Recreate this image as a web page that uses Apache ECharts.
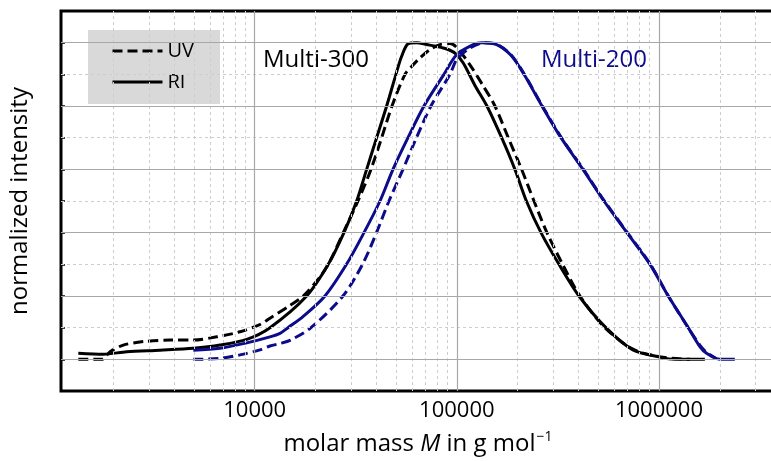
<!DOCTYPE html>
<html><head><meta charset="utf-8">
<script src="https://cdn.jsdelivr.net/npm/echarts@6/dist/echarts.min.js"></script>
<style>html,body{margin:0;padding:0;background:#fff}#c{width:771px;height:461px}</style>
</head><body><div id="c"></div>
<script>
// ---- data: [molar mass M (g/mol), normalized intensity] ----
const uv300 = [[1341,0],[1751,0],[1925,0.024],[2239,0.045],[2813,0.056],[3812,0.061],[4970,0.061],[6488,0.071],[8458,0.087],[10622,0.11],[11905,0.13],[14950,0.17],[17395,0.2],[21040,0.26],[23570,0.31],[27432,0.4],[32430,0.5],[37610,0.6],[42480,0.7],[47780,0.8],[55400,0.9],[59770,0.925],[65680,0.952],[73620,0.978],[82490,0.994],[92450,0.997],[99770,0.985],[116100,0.93],[134600,0.865],[154300,0.8],[179600,0.7],[209200,0.6],[240800,0.5],[279200,0.4],[333700,0.3],[406400,0.2],[540000,0.1],[742900,0.032],[1010400,0.008],[1422000,0.0]];
const ri300 = [[1341,0.019],[1783,0.016],[2328,0.024],[3401,0.029],[4970,0.035],[6735,0.045],[9130,0.063],[11905,0.10],[18080,0.2],[23120,0.3],[27650,0.4],[31950,0.5],[35800,0.6],[40120,0.7],[44960,0.8],[49980,0.9],[53330,0.957],[57490,0.997],[63250,1.0],[70900,0.994],[79450,0.988],[89040,0.98],[97860,0.967],[107570,0.936],[122900,0.865],[140900,0.8],[166600,0.7],[193800,0.6],[220900,0.5],[260800,0.4],[320100,0.3],[402100,0.2],[546200,0.1],[742900,0.03],[1010400,0.007],[1198000,0.0],[1687000,0.0]];
const uv200 = [[4970,0.0],[6735,0.003],[8458,0.014],[10622,0.03],[11905,0.042],[13340,0.05],[14950,0.06],[18990,0.1],[27340,0.2],[34150,0.3],[40050,0.4],[46170,0.5],[54150,0.6],[63150,0.7],[74480,0.8],[92500,0.9],[99770,0.946],[116100,0.983],[137700,1.0],[157300,0.995],[185300,0.962],[214900,0.902],[263800,0.802],[327500,0.702],[420700,0.602],[534400,0.502],[694500,0.402],[902800,0.302],[1111900,0.2],[1395000,0.1],[1593000,0.045],[1719000,0.022],[1900000,0.004]];
const ri200 = [[4970,0.029],[6735,0.035],[9130,0.052],[11905,0.071],[13340,0.082],[14610,0.1],[17340,0.135],[22270,0.2],[28460,0.3],[34730,0.4],[41680,0.5],[48330,0.6],[57330,0.7],[68790,0.8],[86370,0.9],[99770,0.962],[120560,0.994],[133100,1.0],[157300,0.994],[185300,0.96],[214900,0.9],[263800,0.8],[327500,0.7],[420700,0.6],[534400,0.5],[694500,0.4],[902800,0.3],[1111900,0.2],[1395000,0.1],[1593000,0.04],[1719000,0.019],[2001000,0.0],[2373000,0.0]];

// axis ranges and grid values
const xMin = 1101, xMax = 3750000;
const yMin = -0.1, yMax = 1.1, yStep = 0.1;
const xMajor = [10000, 100000, 1000000];
const xMinor = [2000,3000,4000,5000,6000,7000,8000,9000,20000,30000,40000,50000,60000,70000,80000,90000,200000,300000,400000,500000,600000,700000,800000,900000,2000000,3000000];
const yMajor = [0, 0.2, 0.4, 0.6, 0.8, 1.0];
const yMinor = [0.1, 0.3, 0.5, 0.7, 0.9];
const legendNames = ['UV', 'RI'];
const labels = {m300: 'Multi-300', m200: 'Multi-200'};

const FONT = 'Open Sans';
const NAVY = '#0b0b8c';
const majorStyle = {color: '#a8a8a8', width: 1.2, type: 'solid'};
const minorStyle = {color: '#cdcdcd', width: 1, type: [3, 3]};

const gridLines = []
  .concat(xMinor.map(v => ({xAxis: v, lineStyle: minorStyle})))
  .concat(yMinor.map(v => ({yAxis: v, lineStyle: minorStyle})))
  .concat(xMajor.map(v => ({xAxis: v, lineStyle: majorStyle})))
  .concat(yMajor.map(v => ({yAxis: v, lineStyle: majorStyle})));

function curve(name, data, color, dashed) {
  return {
    name, type: 'line', data, color,
    symbol: 'none', showSymbol: false, smooth: 0.3, z: 3,
    lineStyle: {color, width: 3, type: dashed ? [10, 5] : 'solid'},
    emphasis: {disabled: true}
  };
}

const chart = echarts.init(document.getElementById('c'), null, {renderer: 'canvas'});
chart.setOption({
  animation: false,
  grid: {left: 61, right: -4, top: 11, bottom: 70, show: true, borderColor: '#000', borderWidth: 3,
         backgroundColor: 'transparent', containLabel: false, outerBoundsMode: 'none'},
  xAxis: {
    type: 'log', logBase: 10, min: xMin, max: xMax,
    name: '{a|molar mass }{i|M}{a| in g mol}{s|−1}',
    nameLocation: 'middle', nameGap: 39,
    nameTextStyle: {
      rich: {
        a: {fontSize: 24, fontFamily: FONT, color: '#000'},
        i: {fontSize: 24, fontFamily: FONT, color: '#000', fontStyle: 'italic'},
        s: {fontSize: 14, fontFamily: FONT, color: '#000', verticalAlign: 'top', padding: [0, 0, 14, 1]}
      }
    },
    axisLine: {show: false}, axisTick: {show: false}, splitLine: {show: false},
    axisLabel: {
      fontSize: 22, fontFamily: FONT, color: '#000', margin: 9,
      showMinLabel: false, showMaxLabel: false,
      formatter: v => { const l = Math.log10(v); return Math.abs(l - Math.round(l)) < 1e-6 ? String(Math.round(v)) : ''; }
    }
  },
  yAxis: {
    type: 'value', min: yMin, max: yMax, interval: yStep,
    name: 'normalized intensity', nameLocation: 'middle', nameGap: 29, nameRotate: 90,
    nameTextStyle: {fontSize: 24, fontFamily: FONT, color: '#000'},
    axisLabel: {show: false}, axisLine: {show: false}, splitLine: {show: false},
    axisTick: {show: true, inside: true, length: 4, lineStyle: {color: '#000', width: 1.5}}
  },
  legend: {
    data: legendNames, orient: 'vertical', left: 88, top: 30,
    padding: [11, 26, 12, 23], itemGap: 11, itemWidth: 50, itemHeight: 14,
    backgroundColor: '#d9d9d9', selectedMode: false,
    itemStyle: {color: 'rgba(0,0,0,0)', borderColor: 'rgba(0,0,0,0)', borderWidth: 0, opacity: 0},
    lineStyle: {width: 3},
    textStyle: {fontSize: 20, fontFamily: FONT, color: '#000', lineHeight: 20}
  },
  graphic: [
    {type: 'text', left: 263, top: 48, style: {text: labels.m300, fill: '#000', font: '24px "Open Sans"'}},
    {type: 'text', left: 541, top: 48, style: {text: labels.m200, fill: NAVY, font: '24px "Open Sans"'}}
  ],
  series: [
    {type: 'line', data: [], silent: true, z: 1,
     markLine: {silent: true, symbol: 'none', label: {show: false}, animation: false, data: gridLines}},
    curve('UV', uv300, '#000', true),
    curve('RI', ri300, '#000', false),
    curve('UV', uv200, NAVY, true),
    curve('RI', ri200, NAVY, false)
  ]
});
</script></body></html>
